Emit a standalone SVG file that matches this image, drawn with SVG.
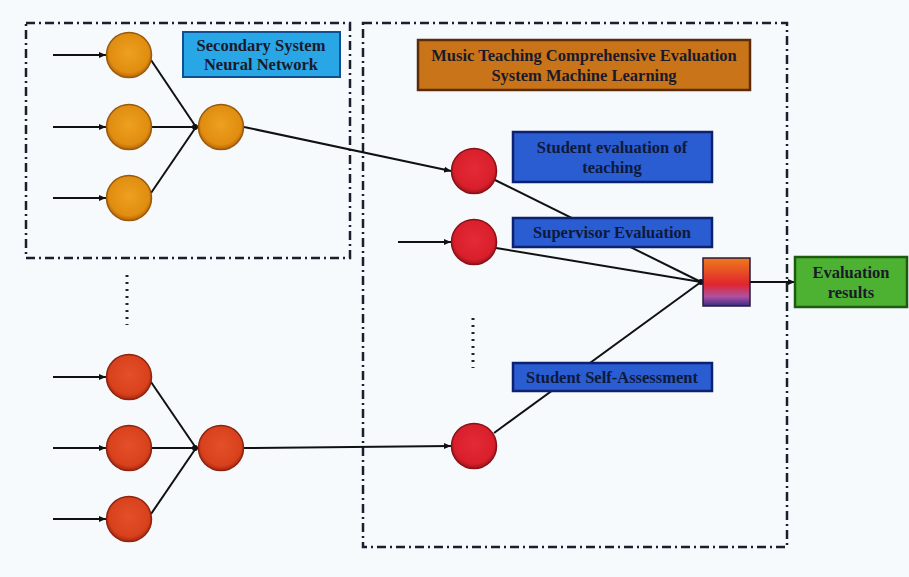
<svg xmlns="http://www.w3.org/2000/svg" width="909" height="577" viewBox="0 0 909 577">
<defs>
<marker id="arr" markerWidth="8" markerHeight="8" refX="7" refY="4" orient="auto" markerUnits="userSpaceOnUse"><path d="M0,1 L7,4 L0,7 z" fill="#111"/></marker>
<radialGradient id="gOr" cx="50%" cy="45%" r="55%"><stop offset="0" stop-color="#eea020"/><stop offset="0.8" stop-color="#e08d10"/><stop offset="1" stop-color="#b8650a"/></radialGradient>
<radialGradient id="gRo" cx="50%" cy="45%" r="55%"><stop offset="0" stop-color="#e4502a"/><stop offset="0.8" stop-color="#d8411c"/><stop offset="1" stop-color="#a82810"/></radialGradient>
<radialGradient id="gRd" cx="50%" cy="45%" r="55%"><stop offset="0" stop-color="#e42a36"/><stop offset="0.8" stop-color="#d81f2b"/><stop offset="1" stop-color="#a0141c"/></radialGradient>
<linearGradient id="gSq" x1="0" y1="0" x2="0" y2="1"><stop offset="0" stop-color="#ee7a1a"/><stop offset="0.55" stop-color="#e0252e"/><stop offset="0.8" stop-color="#b050a0"/><stop offset="1" stop-color="#3a2c88"/></linearGradient>
</defs>
<style>
text{font-family:"Liberation Serif","Times New Roman",serif;font-weight:bold;text-anchor:middle;fill:#1a1a2a;font-size:16.5px}
.frame{fill:none;stroke:#1a1f2e;stroke-width:2.5;stroke-dasharray:9,4,2,4}
.ln{stroke:#111;stroke-width:2;fill:none}
.dots{stroke:#222;stroke-width:3;stroke-dasharray:2,5;fill:none}
.or{fill:url(#gOr);stroke:#9a5a0c;stroke-width:1.5}
.ro{fill:url(#gRo);stroke:#8e2410;stroke-width:1.5}
.rd{fill:url(#gRd);stroke:#8a1018;stroke-width:1.5}
.bl{fill:#2a5cd2;stroke:#0c2270;stroke-width:2.5}
.bt{fill:#0e1a3a}
</style>
<rect width="909" height="577" fill="#f6fafd"/>
<rect class="frame" x="26" y="23" width="324" height="235"/>
<rect class="frame" x="363" y="23" width="424" height="524"/>
<g id="connectors">
<line class="ln" x1="53" y1="55" x2="106" y2="55" marker-end="url(#arr)"/>
<line class="ln" x1="53" y1="127" x2="106" y2="127" marker-end="url(#arr)"/>
<line class="ln" x1="53" y1="198" x2="106" y2="198" marker-end="url(#arr)"/>
<line class="ln" x1="151" y1="60" x2="196" y2="127"/>
<line class="ln" x1="152" y1="127" x2="198" y2="127"/>
<line class="ln" x1="151" y1="193" x2="196" y2="127"/>
<circle cx="195" cy="127" r="3" fill="#111"/>
<line class="ln" x1="244" y1="127" x2="451" y2="171" marker-end="url(#arr)"/>
<line class="ln" x1="53" y1="377" x2="106" y2="377" marker-end="url(#arr)"/>
<line class="ln" x1="53" y1="448" x2="106" y2="448" marker-end="url(#arr)"/>
<line class="ln" x1="53" y1="519" x2="106" y2="519" marker-end="url(#arr)"/>
<line class="ln" x1="151" y1="382" x2="196" y2="448"/>
<line class="ln" x1="152" y1="448" x2="198" y2="448"/>
<line class="ln" x1="151" y1="514" x2="196" y2="448"/>
<circle cx="195" cy="448" r="3" fill="#111"/>
<line class="ln" x1="244" y1="448" x2="451" y2="446" marker-end="url(#arr)"/>
<line class="ln" x1="398" y1="242" x2="451" y2="242" marker-end="url(#arr)"/>
<line class="ln" x1="495" y1="180" x2="701" y2="282"/>
<line class="ln" x1="496" y1="248" x2="701" y2="282"/>
<line class="ln" x1="494" y1="433" x2="701" y2="282"/>
<circle cx="701" cy="282" r="3" fill="#111"/>
<line class="ln" x1="750" y1="282" x2="795" y2="282" marker-end="url(#arr)"/>
<line class="dots" x1="127" y1="275" x2="127" y2="325"/>
<line class="dots" x1="473" y1="318" x2="473" y2="368"/>
</g>
<g id="label-secondary"><rect x="183" y="32" width="157" height="45" fill="#29a6e6" stroke="#0d4f90" stroke-width="2"/><text x="261" y="51">Secondary System</text><text x="261" y="70">Neural Network</text></g>
<g id="label-music"><rect x="418" y="40" width="332" height="50" fill="#c97418" stroke="#5a2c08" stroke-width="2.5"/><text x="584" y="61">Music Teaching Comprehensive Evaluation</text><text x="584" y="81">System Machine Learning</text></g>
<g id="n-o1"><circle class="or" cx="129" cy="55" r="22.5"/></g>
<g id="n-o2"><circle class="or" cx="129" cy="127" r="22.5"/></g>
<g id="n-o3"><circle class="or" cx="129" cy="198" r="22.5"/></g>
<g id="n-oh"><circle class="or" cx="221" cy="127" r="22.5"/></g>
<g id="n-r1"><circle class="ro" cx="129" cy="377" r="22.5"/></g>
<g id="n-r2"><circle class="ro" cx="129" cy="448" r="22.5"/></g>
<g id="n-r3"><circle class="ro" cx="129" cy="519" r="22.5"/></g>
<g id="n-rh"><circle class="ro" cx="221" cy="448" r="22.5"/></g>
<g id="n-e1"><circle class="rd" cx="474" cy="171" r="22.5"/></g>
<g id="n-e2"><circle class="rd" cx="474" cy="242" r="22.5"/></g>
<g id="n-e3"><circle class="rd" cx="474" cy="446" r="22.5"/></g>
<g id="label-student-eval"><rect class="bl" x="513" y="132" width="199" height="50"/><text class="bt" x="612" y="153">Student evaluation of</text><text class="bt" x="612" y="173">teaching</text></g>
<g id="label-supervisor"><rect class="bl" x="513" y="218" width="199" height="29"/><text class="bt" x="612" y="238">Supervisor Evaluation</text></g>
<g id="label-self"><rect class="bl" x="513" y="363" width="199" height="28"/><text class="bt" x="612" y="383">Student Self-Assessment</text></g>
<g id="n-combine"><rect x="703" y="258" width="47" height="48" fill="url(#gSq)" stroke="#2a1a40" stroke-width="1.5"/></g>
<g id="n-result"><rect x="795" y="257" width="112" height="50" fill="#4db232" stroke="#1e5a10" stroke-width="2.5"/><text x="851" y="278">Evaluation</text><text x="851" y="298">results</text></g>
</svg>
